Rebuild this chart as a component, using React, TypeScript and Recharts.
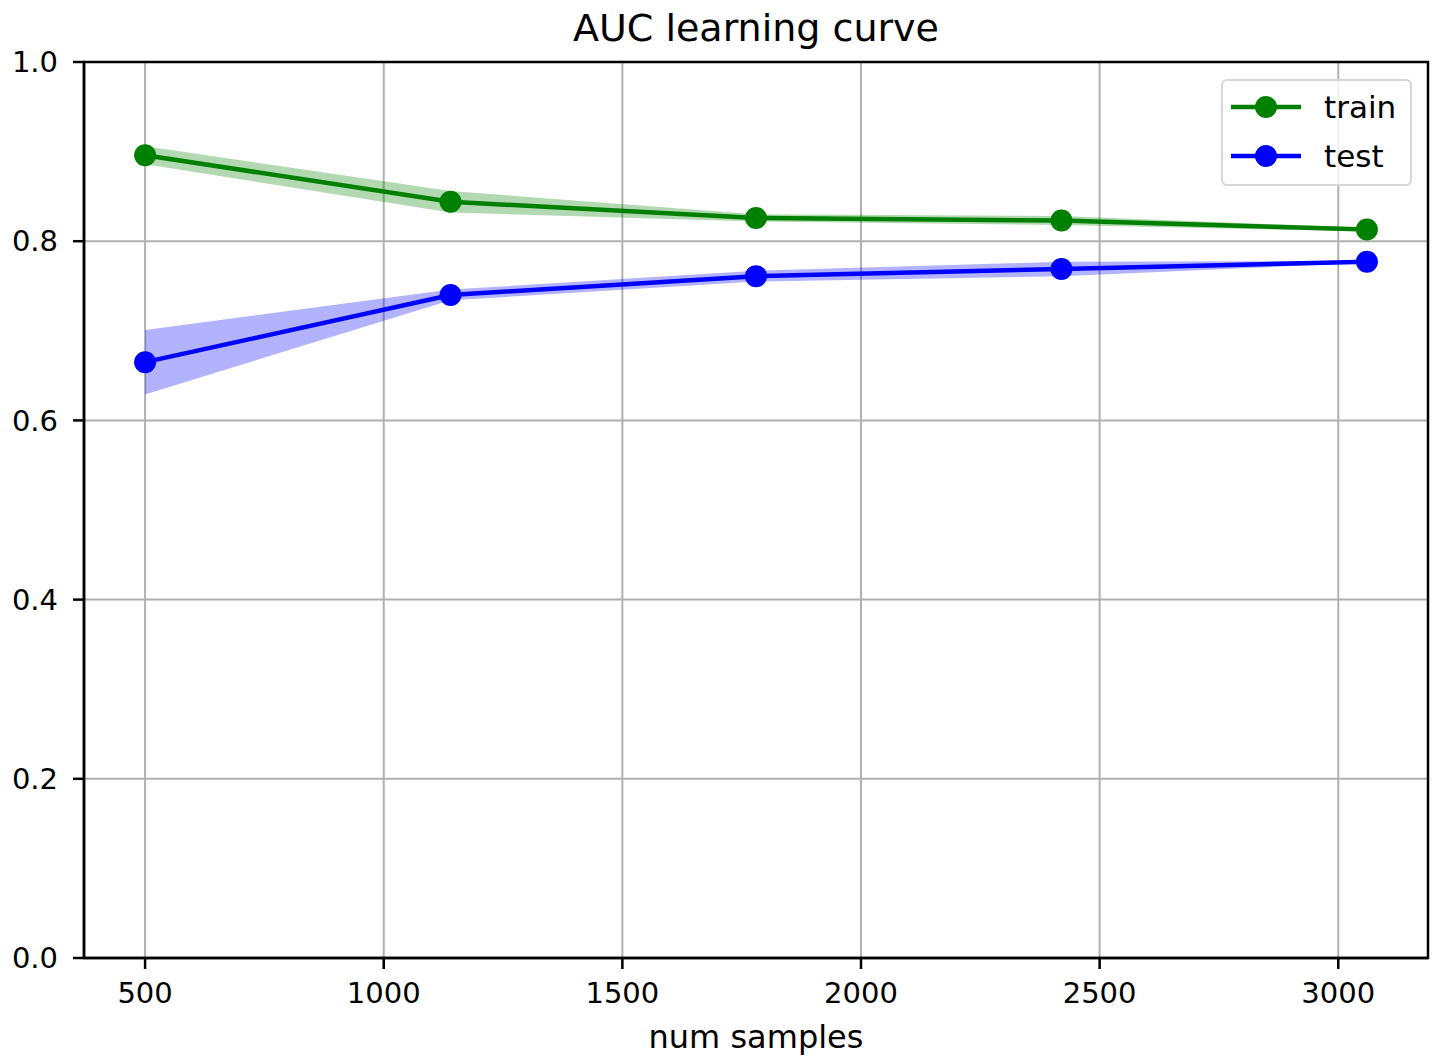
import React from "react";
import {
  ComposedChart, Line, Area, XAxis, YAxis, CartesianGrid, Legend, ReferenceArea,
} from "recharts";

const sizes = [500, 1140, 1780, 2420, 3060];
const trainMean = [0.896, 0.844, 0.826, 0.823, 0.813];
const trainStd = [0.010, 0.012, 0.004, 0.005, 0.002];
const testMean = [0.665, 0.740, 0.761, 0.769, 0.777];
const testStd = [0.036, 0.006, 0.006, 0.008, 0.001];

const xTicks = [500, 1000, 1500, 2000, 2500, 3000];
const yTicks = [0, 0.2, 0.4, 0.6, 0.8, 1.0];
const xDomain: [number, number] = [372, 3188];

const GREEN = "#008000";
const BLUE = "#0000ff";
const FONT = "'DejaVu Sans', sans-serif";

const data = sizes.map((x, i) => ({
  x,
  train: trainMean[i],
  trainBand: [trainMean[i] - trainStd[i], trainMean[i] + trainStd[i]],
  test: testMean[i],
  testBand: [testMean[i] - testStd[i], testMean[i] + testStd[i]],
}));

const series = [
  { name: "train", color: GREEN },
  { name: "test", color: BLUE },
];

// legend is drawn in a zero-size wrapper so recharts doesn't shrink the plot for it
function LegendBox() {
  return (
    <div style={{
      position: "absolute", left: 0, top: 0,
      width: 191, height: 107, boxSizing: "border-box", border: "2px solid #d6d6d6",
      borderRadius: 6, background: "rgba(255,255,255,0.8)",
    }}>
      {series.map((s, i) => (
        <div key={s.name} style={{ position: "absolute", left: 7, top: 8 + i * 49, height: 36, display: "flex", alignItems: "center" }}>
          <svg width={72} height={36}>
            <line x1={1} x2={71} y1={18} y2={18} stroke={s.color} strokeWidth={4.5} />
            <circle cx={36} cy={18} r={11} fill={s.color} />
          </svg>
          <span style={{ marginLeft: 22, fontSize: 31, color: "#000", fontFamily: FONT, lineHeight: "36px" }}>{s.name}</span>
        </div>
      ))}
    </div>
  );
}

export default function App() {
  return (
    <div style={{ position: "absolute", left: 0, top: 0, width: 1434, height: 1057, background: "#fff", fontFamily: FONT }}>
      <div style={{ position: "absolute", left: 84, width: 1344, top: 6, textAlign: "center", fontSize: 38, color: "#000" }}>
        AUC learning curve
      </div>
      <ComposedChart width={1434} height={1057} data={data} margin={{ top: 62, right: 6, left: 0, bottom: 0 }}>
        <CartesianGrid stroke="#b0b0b0" strokeWidth={2} />
        <XAxis
          dataKey="x" type="number" domain={xDomain} ticks={xTicks} height={99}
          tick={{ fill: "#000", fontSize: 29, fontFamily: FONT }}
          tickSize={11} tickMargin={13} tickLine={{ stroke: "#000", strokeWidth: 2.5 }}
          axisLine={{ stroke: "#000", strokeWidth: 2.5 }}
          label={{ value: "num samples", position: "insideBottom", offset: 9, fontSize: 32, fill: "#000", fontFamily: FONT }}
        />
        <YAxis
          type="number" domain={[0, 1]} ticks={yTicks} width={84}
          tickFormatter={(v: number) => v.toFixed(1)}
          tick={{ fill: "#000", fontSize: 29, fontFamily: FONT }}
          tickSize={11} tickMargin={15} tickLine={{ stroke: "#000", strokeWidth: 2.5 }}
          axisLine={{ stroke: "#000", strokeWidth: 2.5 }}
        />
        <Area dataKey="trainBand" type="linear" stroke="none" fill={GREEN} fillOpacity={0.3} isAnimationActive={false} legendType="none" />
        <Area dataKey="testBand" type="linear" stroke="none" fill={BLUE} fillOpacity={0.3} isAnimationActive={false} legendType="none" />
        <Line dataKey="train" name="train" type="linear" stroke={GREEN} strokeWidth={4.5}
          dot={{ r: 11, fill: GREEN, stroke: GREEN, strokeWidth: 0 }} activeDot={false} isAnimationActive={false} />
        <Line dataKey="test" name="test" type="linear" stroke={BLUE} strokeWidth={4.5}
          dot={{ r: 11, fill: BLUE, stroke: BLUE, strokeWidth: 0 }} activeDot={false} isAnimationActive={false} />
        <ReferenceArea x1={xDomain[0]} x2={xDomain[1]} y1={0} y2={1} fill="none" stroke="#000" strokeWidth={2.5} ifOverflow="visible" />
        <Legend content={() => <LegendBox />} wrapperStyle={{ position: "absolute", left: 1221, top: 79, width: 0, height: 0, overflow: "visible" }} />
      </ComposedChart>
    </div>
  );
}
